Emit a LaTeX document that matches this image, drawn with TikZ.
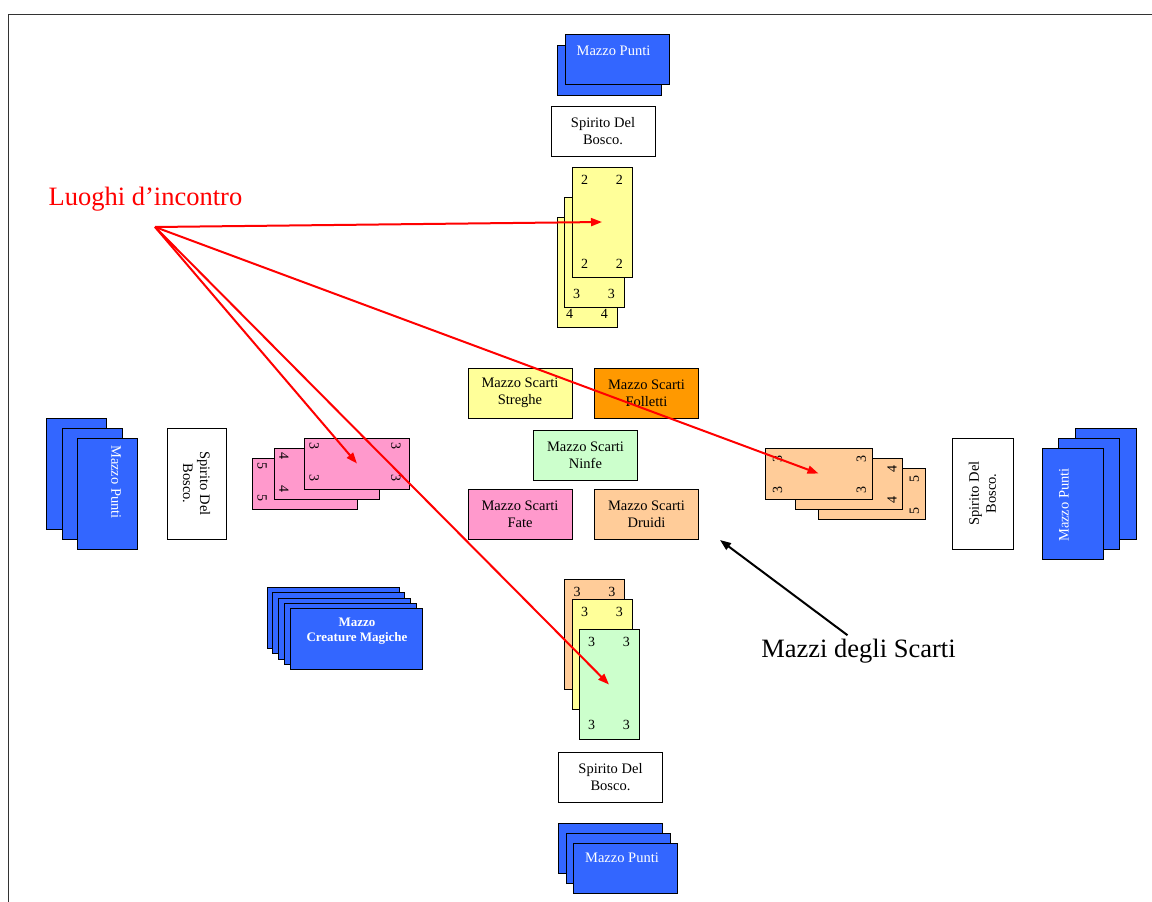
\documentclass[tikz,border=0pt]{standalone}
\usepackage{fontspec}
\setmainfont{Liberation Serif}
\usetikzlibrary{arrows.meta, positioning, calc}
\definecolor{cblue}{HTML}{3366FF}
\definecolor{cyellow}{HTML}{FFFF99}
\definecolor{corange}{HTML}{FF9900}
\definecolor{cgreen}{HTML}{CCFFCC}
\definecolor{cpink}{HTML}{FF99CC}
\definecolor{cpeach}{HTML}{FFCC99}
\definecolor{cred}{HTML}{FF0000}
\tikzset{
  every picture/.style={line width=0.8pt},
  box/.style={draw=black, fill=#1, align=center, inner sep=0pt, minimum width=104pt, minimum height=50pt, font=\fontsize{14.5}{17}\selectfont},
  box/.default=white,
  card/.style={draw=black, fill=#1, inner sep=0pt},
  card/.default=cblue,
  tall/.style={minimum width=60pt, minimum height=110pt},
  wide/.style={minimum width=105pt, minimum height=51pt},
  num/.style={font=\fontsize{14}{14}\selectfont, inner sep=0pt},
  decktext/.style={text=white, font=\fontsize{14.5}{17}\selectfont, align=center, inner sep=0pt},
  pointer/.style={-{Triangle[length=11pt, width=8pt]}, draw=cred, line width=2pt},
  callout/.style={font=\fontsize{26.5}{30}\selectfont},
}

\begin{document}
\begin{tikzpicture}[x=1pt, y=-1pt,
  scarti/.style={-{Triangle[length=11pt, width=8pt]}, draw=black, line width=2pt}]
  \useasboundingbox (0,0) rectangle (1152,902);
  \draw[black!80] (8,902) -- (8,14) -- (1152,14);
  % north player
  \node[card, minimum width=104pt, minimum height=50pt] (np2) at (609.5,70) {};
  \node[card, minimum width=104pt, minimum height=50pt] (np1) at (617,59.5) {};
  \node[decktext] (nptext) at (613.5,51) {Mazzo Punti};
  \node[box] (nspirito) at (603,131) {Spirito Del\\Bosco.};
  \foreach \n/\x/\y/\v in {3/587/272.5/4, 2/594/252.5/3, 1/602/222/2} {
    \node[card=cyellow, tall] (n\n) at (\x,\y) {};
    \node[num] at ($(n\n.south west)+(13,-14)$) {\v};
    \node[num] at ($(n\n.south east)+(-13,-14)$) {\v};
  }
  \node[num] at ($(n1.north west)+(13,13)$) {2};
  \node[num] at ($(n1.north east)+(-13,13)$) {2};
  % west player
  \foreach \n/\x/\y in {3/76.5/473.5, 2/92/484, 1/107.5/493.5}
    \node[card, minimum width=60pt, minimum height=111pt] (wp\n) at (\x,\y) {};
  \node[decktext, rotate=-90] (wptext) at (116,482) {Mazzo Punti};
  \node[box, rotate=-90, minimum width=111pt, minimum height=59pt] (wspirito) at (196.5,483.5) {Spirito Del\\Bosco.};
  \foreach \n/\x/\y/\v in {3/305/483.5/5, 2/327/474/4, 1/357/463.5/3} {
    \node[card=cpink, wide] (w\n) at (\x,\y) {};
    \node[num, rotate=-90] at ($(w\n.north west)+(10,8)$) {\v};
    \node[num, rotate=-90] at ($(w\n.south west)+(10,-11)$) {\v};
  }
  \node[num, rotate=-90] at ($(w1.north east)+(-14,8)$) {3};
  \node[num, rotate=-90] at ($(w1.south east)+(-14,-11)$) {3};
  % east player
  \foreach \n/\x/\y/\v in {3/871.5/494/5, 2/849/483.5/4, 1/818.5/473.5/3} {
    \node[card=cpeach, minimum width=107pt, minimum height=51pt] (e\n) at (\x,\y) {};
    \node[num, rotate=90] at ($(e\n.north east)+(-11,11)$) {\v};
    \node[num, rotate=90] at ($(e\n.south east)+(-11,-9)$) {\v};
  }
  \node[num, rotate=90] at ($(e1.north west)+(13,11)$) {3};
  \node[num, rotate=90] at ($(e1.south west)+(13,-9)$) {3};
  \node[box, rotate=90, minimum width=111pt, minimum height=61pt] (espirito) at (982.5,493.5) {Spirito Del\\Bosco.};
  \foreach \n/\x/\y in {3/1105.5/483.5, 2/1088.5/494, 1/1073/503.5}
    \node[card, minimum width=61pt, minimum height=111pt] (ep\n) at (\x,\y) {};
  \node[decktext, rotate=90] (eptext) at (1064,505) {Mazzo Punti};
  % south player
  \foreach \n/\x/\y/\col in {3/594.5/634/cpeach, 2/602/654.5/cyellow, 1/609/684.5/cgreen} {
    \node[card=\col, tall] (s\n) at (\x,\y) {};
    \node[num] at ($(s\n.north west)+(13,13)$) {3};
    \node[num] at ($(s\n.north east)+(-13,13)$) {3};
  }
  \node[num] at ($(s1.south west)+(13,-15)$) {3};
  \node[num] at ($(s1.south east)+(-13,-15)$) {3};
  \node[box] (sspirito) at (610.5,777) {Spirito Del\\Bosco.};
  \foreach \n/\x/\y in {3/610/848, 2/618/858, 1/625/868}
    \node[card, minimum width=104pt, minimum height=50pt] (sp\n) at (\x,\y) {};
  \node[decktext] (sptext) at (622,858) {Mazzo Punti};
  % creature deck
  \foreach \i in {0,...,4}
    \node[card, minimum width=132pt, minimum height=61pt] (cm\i) at (333+5.875*\i, 618+5.25*\i) {};
  \node[decktext, font=\fontsize{13}{15}\selectfont\bfseries] (cmtext) at (357,631) {Mazzo\\Creature Magiche};
  % discard piles
  \node[box=cyellow] (streghe) at (520,393) {Mazzo Scarti\\Streghe};
  \node[box=corange] (folletti) at (646.5,393) {Mazzo Scarti\\Folletti};
  \node[box=cgreen] (ninfe) at (585.5,455) {Mazzo Scarti\\Ninfe};
  \node[box=cpink] (fate) at (520,514) {Mazzo Scarti\\Fate};
  \node[box=cpeach] (druidi) at (646.5,514) {Mazzo Scarti\\Druidi};
  % callouts
  \node[callout, text=cred] (luoghi) at (145.5,199) {Luoghi d’incontro};
  \coordinate (hub) at (155,227);
  \foreach \t in {n1, e1, w1, s1} \draw[pointer] (hub) -- (\t.center);
  \node[callout] (mazzi) at (858.5,651) {Mazzi degli Scarti};
  \coordinate (scartitip) at (720,540);
  \draw[scarti] ([xshift=-11pt]mazzi.north) -- (scartitip);
\end{tikzpicture}
\end{document}
